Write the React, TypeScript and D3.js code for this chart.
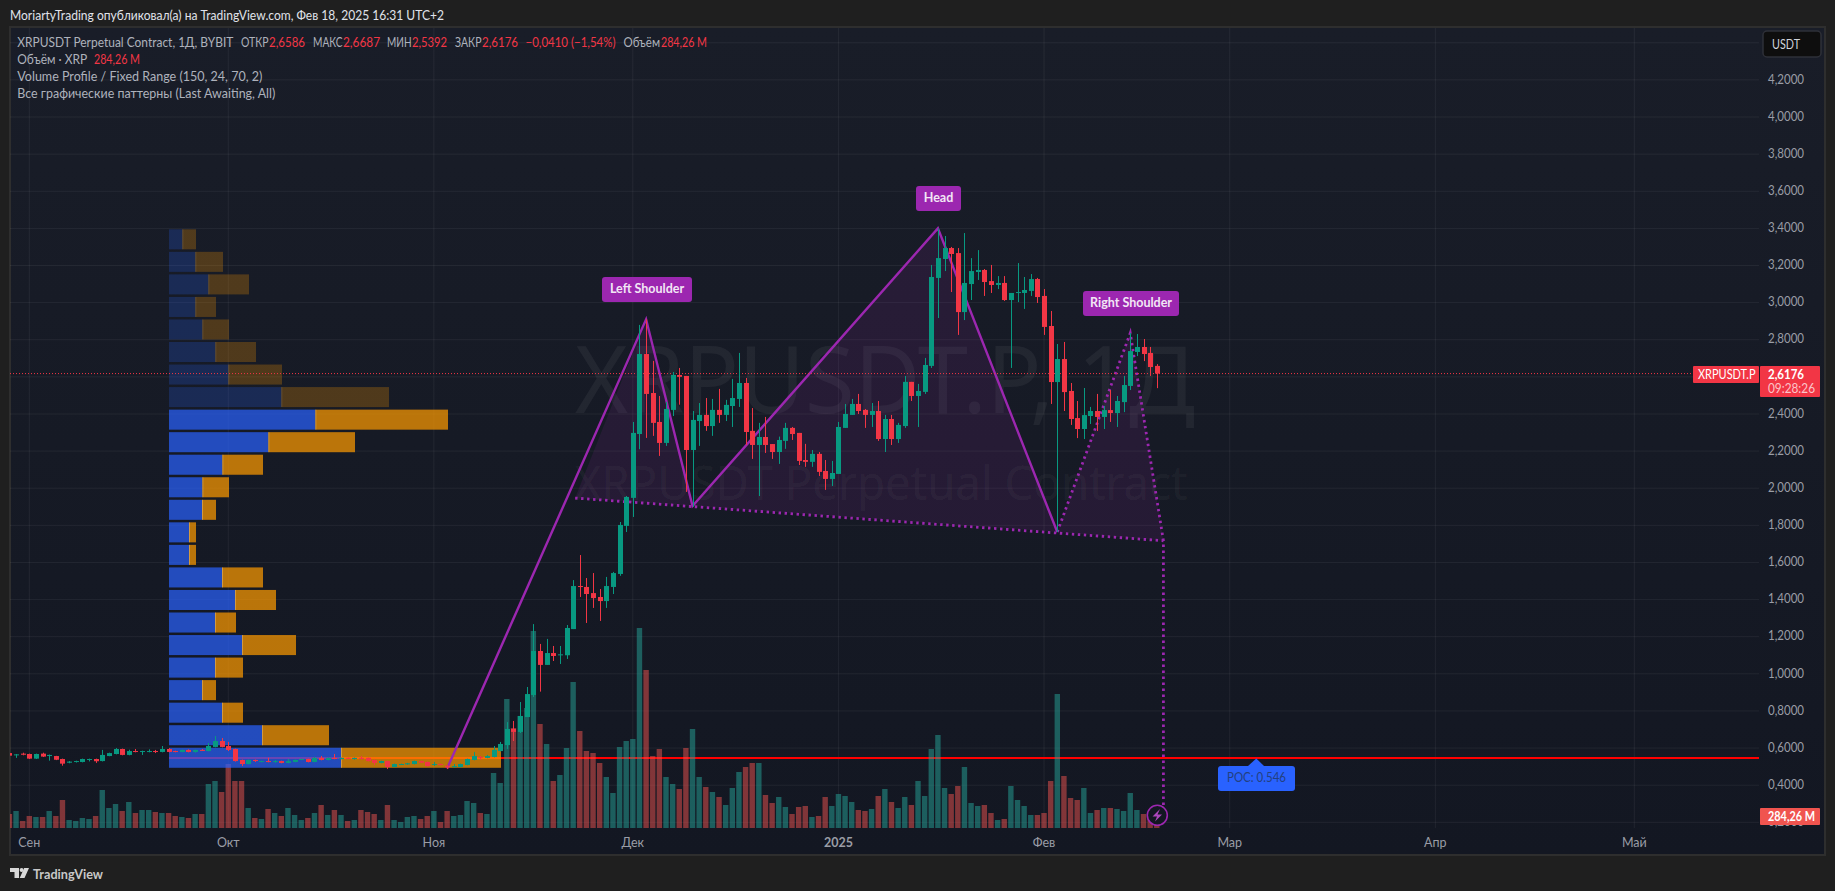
import React from "react";
import * as d3 from "d3";

// ---------- data ----------
const firstBarOffset = -3; // bars start three days before 1 Sep 2024
const opens = [.573,.561,.570,.568,.543,.570,.557,.557,.541,.521,.525,.525,.536,.541,.530,.557,.568,.595,.563,.584,.579,.579,.584,.579,.595,.584,.579,.590,.579,.590,.584,.606,.638,.611,.595,.536,.514,.536,.525,.530,.525,.530,.520,.525,.536,.541,.525,.547,.536,.547,.541,.547,.541,.547,.547,.536,.520,.530,.498,.510,.512,.514,.530,.525,.510,.514,.505,.498,.498,.509,.536,.552,.547,.552,.584,
.616,.703,.687,.767,.886,1.123,1.048,1.112,1.100,1.100,1.241,1.473,1.468,1.435,1.414,1.392,1.468,1.538,1.797,1.948,2.292,2.723,2.513,2.357,2.244,2.422,2.610,2.605,2.206,2.362,2.395,2.335,2.422,2.395,2.443,2.481,2.567,2.309,2.233,2.276,2.238,2.195,2.255,2.325,2.298,2.152,2.142,2.185,2.093,2.050,2.077,2.325,2.395,2.454,2.422,2.395,2.416,2.265,2.373,2.265,2.335,2.573,2.497,2.519,2.659,3.133,3.235,3.294,3.267,2.949,3.100,3.165,3.176,3.116,3.095,3.106,3.014,3.052,3.052,3.063,3.127,3.036,2.874,2.572,2.696,2.524,2.378,2.319,2.389,2.416,2.384,2.421,2.405,2.464,2.551,2.734,2.761,2.729,2.659];
const closes = [.559,.566,.564,.543,.568,.554,.563,.537,.516,.527,.530,.541,.541,.529,.563,.573,.595,.563,.584,.579,.584,.584,.579,.595,.579,.579,.590,.579,.590,.586,.611,.638,.606,.590,.530,.514,.536,.530,.530,.525,.530,.520,.530,.536,.541,.525,.547,.536,.547,.541,.547,.543,.547,.541,.530,.520,.530,.498,.514,.514,.518,.530,.521,.503,.514,.509,.496,.503,.514,.541,.557,.547,.557,.590,.622,
.703,.687,.773,.891,1.123,1.048,1.112,1.096,1.105,1.247,1.473,1.468,1.430,1.408,1.392,1.473,1.543,1.802,1.953,2.298,2.723,2.508,2.352,2.244,2.427,2.610,2.600,2.206,2.368,2.395,2.335,2.422,2.395,2.449,2.486,2.567,2.303,2.233,2.276,2.233,2.195,2.260,2.325,2.292,2.147,2.142,2.185,2.088,2.050,2.082,2.330,2.400,2.454,2.416,2.395,2.416,2.265,2.373,2.265,2.341,2.573,2.497,2.524,2.664,3.138,3.240,3.294,3.262,2.949,3.106,3.170,3.176,3.111,3.095,3.106,3.014,3.052,3.057,3.068,3.127,3.030,2.869,2.572,2.696,2.518,2.373,2.319,2.394,2.416,2.384,2.421,2.405,2.470,2.556,2.739,2.761,2.723,2.653,2.6176];
const highs = [.578,.568,.575,.570,.570,.575,.565,.558,.543,.530,.532,.543,.543,.543,.590,.575,.600,.597,.591,.595,.586,.593,.590,.611,.600,.586,.591,.593,.591,.595,.627,.665,.654,.633,.597,.538,.538,.538,.532,.548,.536,.532,.541,.538,.542,.543,.552,.557,.549,.568,.549,.549,.549,.557,.549,.538,.532,.532,.516,.516,.520,.532,.532,.527,.525,.516,.507,.514,.516,.543,.579,.557,.563,.611,.633,
.740,.746,.848,.929,1.268,1.161,1.188,1.150,1.150,1.263,1.505,1.640,1.516,1.543,1.457,1.522,1.549,1.818,1.958,2.357,2.880,2.910,2.686,2.497,2.465,2.626,2.648,2.605,2.416,2.459,2.486,2.481,2.535,2.476,2.589,2.729,2.594,2.432,2.352,2.384,2.238,2.278,2.352,2.330,2.298,2.239,2.206,2.195,2.152,2.147,2.357,2.454,2.481,2.508,2.427,2.459,2.470,2.395,2.395,2.352,2.605,2.573,2.562,2.702,3.203,3.400,3.359,3.300,3.294,3.375,3.240,3.283,3.181,3.203,3.143,3.143,3.052,3.213,3.138,3.154,3.133,3.073,2.955,2.777,2.788,2.567,2.470,2.540,2.438,2.508,2.443,2.529,2.497,2.605,2.836,2.831,2.804,2.761,2.6687];
const lows = [.556,.547,.561,.541,.541,.552,.532,.535,.505,.518,.522,.523,.528,.520,.528,.556,.566,.561,.561,.577,.563,.577,.573,.577,.577,.577,.577,.577,.575,.584,.582,.604,.604,.584,.527,.503,.512,.525,.523,.523,.520,.518,.518,.523,.535,.523,.523,.534,.534,.540,.539,.541,.537,.539,.528,.509,.518,.487,.496,.509,.510,.512,.519,.501,.503,.507,.487,.493,.496,.507,.534,.537,.545,.550,.582,
.595,.638,.681,.767,.875,.904,1.048,1.069,1.053,1.080,1.241,1.414,1.274,1.355,1.285,1.355,1.430,1.528,1.764,1.845,2.210,2.271,2.282,2.174,2.228,2.389,2.450,1.980,1.899,2.228,2.309,2.282,2.352,2.362,2.330,2.438,2.233,2.158,1.958,2.190,2.158,2.131,2.212,2.260,2.125,2.115,2.115,2.066,1.991,2.012,2.077,2.325,2.395,2.400,2.325,2.330,2.255,2.195,2.233,2.244,2.325,2.470,2.330,2.508,2.648,2.917,3.170,3.057,2.826,2.906,3.014,3.122,3.036,3.052,3.073,3.009,2.648,3.003,2.966,3.036,2.998,2.826,2.454,1.764,2.416,2.341,2.270,2.265,2.346,2.308,2.319,2.357,2.330,2.410,2.529,2.712,2.685,2.605,2.5392];
// volume, millions of XRP
const volumes = [336,408,168,288,264,264,408,288,672,192,168,240,216,288,912,480,576,408,624,360,432,432,384,360,360,288,264,240,336,336,1056,1128,864,1536,1128,1128,480,240,216,456,360,288,480,312,192,240,360,552,312,432,312,168,192,432,384,336,192,552,192,144,264,288,216,288,408,144,408,288,312,648,600,360,336,1320,1080,3096,2400,2688,2880,4728,2496,2016,1128,1272,1920,3504,2328,1848,1800,1560,1224,840,1944,2088,2136,4800,3792,1728,1896,1224,1056,936,1920,2376,1224,984,864,744,552,960,1344,1464,1560,1560,792,600,744,504,336,504,528,264,288,744,528,816,768,624,432,408,456,768,936,624,480,744,552,1128,768,1896,2232,960,816,1008,1464,600,528,552,360,192,216,1008,672,528,312,312,360,1128,3216,1248,720,672,960,360,432,480,480,456,408,840,432,336,216,284];
// Volume profile, top row first
const profileUp = [665,1315,1965,1315,1665,2315,2965,5615,7315,4965,2665,1665,1650,1000,1000,2650,3300,2300,3650,2300,1650,2650,4650,8600];
const profileDown = [685,1385,2035,1035,1335,2035,2685,5385,6635,4335,2035,1335,700,350,350,2050,2050,1050,2700,1400,700,1050,3350,8000];
const profileLow = 0.487;
const profileStep = 0.12145;
const valueAreaFirstRow = 8;
const priceTicks = [0.2,0.4,0.6,0.8,1,1.2,1.4,1.6,1.8,2,2.2,2.4,2.8,3,3.2,3.4,3.6,3.8,4,4.2];
const gridOnlyTicks = [2.6,4.4];
const monthTicks: [number, number, string][] = [
  [2024,8,"Сен"],[2024,9,"Окт"],[2024,10,"Ноя"],[2024,11,"Дек"],[2025,0,"2025"],[2025,1,"Фев"],[2025,2,"Мар"],[2025,3,"Апр"],[2025,4,"Май"],
];
const lastPrice = 2.6176;
const pocPrice = 0.546;
// pattern pivots [bar index from 1 Sep, price]
const patternStart: [number, number] = [63, 0.49];
const leftPeak: [number, number] = [93, 2.91];
const valley1: [number, number] = [100, 1.904];
const headPeak: [number, number] = [137, 3.4];
const valley2: [number, number] = [155, 1.764];
const rightPeak: [number, number] = [166, 2.836];
const neckEnd: [number, number] = [171, 1.717];
const neckStart: [number, number] = [82.3, 1.947];
const targetEnd: [number, number] = [171, 0.29];

// ---------- scales ----------
const x = d3.scaleUtc().domain([new Date(Date.UTC(2024,8,1)), new Date(Date.UTC(2025,4,1))]).range([29.3,1634.3]);
const xBar = (i: number) => x(new Date(Date.UTC(2024,8,1) + i*86400000));
const y = d3.scaleLinear().domain([0.2,4.2]).range([822.3,79.9]);
const yVol = d3.scaleLinear().domain([0,4800]).range([828,628]);
const wProfile = d3.scaleLinear().domain([0,16600]).range([0,332]);
const PROFILE_LEFT = 169;
const pathOf = d3.line<[number,number]>().x(d=>xBar(d[0])).y(d=>y(d[1]));
const polyOf = d3.line<[number,number]>().x(d=>xBar(d[0])).y(d=>y(d[1])).curve(d3.curveLinearClosed);
const comma = (v:number)=>d3.format(".4f")(v).replace(".",",");

const FONT = "Lato, 'Noto Sans', sans-serif";
const GRID = "rgba(255,255,255,0.06)";
const TEAL = "#089981", RED = "#f23645", PURPLE = "#9c27b0";

function T({x:tx,y:ty,w,size=12.5,fill="#aeb2bc",anchor="start",weight=400,children}:any){
  return <text x={tx} y={ty} fontFamily={FONT} fontSize={size} fill={fill} textAnchor={anchor} fontWeight={weight}
    dominantBaseline="central" {...(w?{textLength:w,lengthAdjust:"spacingAndGlyphs"}:{})}>{children}</text>;
}

export default function App(){
  const bars = opens.map((o,k)=>({i:k+firstBarOffset,o,c:closes[k],h:highs[k],l:lows[k],v:volumes[k],up:closes[k]>=o}));
  return (
    <svg width={1835} height={891} viewBox="0 0 1835 891" style={{position:"absolute",left:0,top:0,display:"block"}}>
      <defs>
        <linearGradient id="pane" x1="0" y1="0" x2="0" y2="1">
          <stop offset="0" stopColor="#191d28"/><stop offset="1" stopColor="#131722"/>
        </linearGradient>
        <clipPath id="plot"><rect x={10} y={27} width={1749} height={802}/></clipPath>
      </defs>
      <rect width={1835} height={891} fill="#1f1f1f"/>
      <T x={10} y={15} w={434} size={13} fill="#e0e3eb">MoriartyTrading опубликовал(а) на TradingView.com, Фев 18, 2025 16:31 UTC+2</T>
      <rect x={10} y={27} width={1815} height={828} fill="url(#pane)" stroke="#2e2e2e" strokeWidth={2}/>

      {/* grid */}
      {[...priceTicks,...gridOnlyTicks].map(p=><line key={p} x1={10} x2={1759} y1={y(p)} y2={y(p)} stroke={GRID}/>)}
      {monthTicks.map(([yy,m])=><line key={`${yy}${m}`} x1={x(new Date(Date.UTC(yy,m,1)))} x2={x(new Date(Date.UTC(yy,m,1)))} y1={28} y2={828} stroke={GRID}/>)}

      {/* watermark */}
      <text x={885} y={413} textAnchor="middle" fontFamily="'Noto Sans', sans-serif" fontSize={94} fill="rgba(255,255,255,0.055)" textLength={620} lengthAdjust="spacingAndGlyphs">XRPUSDT.P, 1Д</text>
      <text x={881} y={500} textAnchor="middle" fontFamily="'Noto Sans', sans-serif" fontSize={48} fill="rgba(255,255,255,0.055)" textLength={613} lengthAdjust="spacingAndGlyphs">XRPUSDT Perpetual Contract</text>

      <g clipPath="url(#plot)">
        {/* POC line */}
        <line x1={PROFILE_LEFT} x2={1759} y1={y(pocPrice)} y2={y(pocPrice)} stroke="#ff0000" strokeWidth={2}/>
        {/* volume */}
        {bars.map(b=><rect key={b.i} x={xBar(b.i)-2.7} width={5.4} y={yVol(b.v)} height={yVol(0)-yVol(b.v)} fill={b.up?"rgba(38,166,154,0.5)":"rgba(239,83,80,0.5)"}/>)}
        {/* volume profile */}
        {profileUp.map((u,k)=>{
          const row = profileUp.length-1-k;
          const top = y(profileLow+(row+1)*profileStep)+1.25;
          const bot = y(profileLow+row*profileStep)-1.25;
          const bright = k>=valueAreaFirstRow;
          const wu = wProfile(u), wd = wProfile(profileDown[k]);
          return <g key={k}>
            <rect x={PROFILE_LEFT} y={top} width={wu} height={bot-top} fill="#2962ff" fillOpacity={bright?0.7:0.22}/>
            <rect x={PROFILE_LEFT+wu} y={top} width={wd} height={bot-top} fill="#fb9800" fillOpacity={bright?0.72:0.25}/>
            <line x1={PROFILE_LEFT+wu+0.5} x2={PROFILE_LEFT+wu+0.5} y1={top} y2={bot} stroke="#ffdcaa" strokeOpacity={bright?0.35:0.15}/>
          </g>;
        })}
        {/* pattern fills */}
        <path d={polyOf([neckStart,leftPeak,valley1])!} fill={PURPLE} fillOpacity={0.12}/>
        <path d={polyOf([valley1,headPeak,valley2])!} fill={PURPLE} fillOpacity={0.12}/>
        <path d={polyOf([valley2,rightPeak,neckEnd])!} fill={PURPLE} fillOpacity={0.12}/>
        {/* pattern lines */}
        <path d={pathOf([patternStart,leftPeak,valley1,headPeak,valley2])!} fill="none" stroke={PURPLE} strokeWidth={2.4}/>
        <path d={pathOf([valley2,rightPeak,neckEnd,targetEnd])!} fill="none" stroke={PURPLE} strokeWidth={2.8} strokeDasharray="2.4 3.6"/>
        <path d={pathOf([neckStart,neckEnd])!} fill="none" stroke={PURPLE} strokeWidth={2.8} strokeDasharray="2.4 3.6"/>
        {/* last price line */}
        <line x1={10} x2={1692} y1={y(lastPrice)} y2={y(lastPrice)} stroke={RED} strokeWidth={1} strokeDasharray="1 2"/>
        {/* candles */}
        {bars.map(b=>{
          const c = b.up?TEAL:RED, cx = Math.round(xBar(b.i));
          const t = y(Math.max(b.o,b.c)), bt = y(Math.min(b.o,b.c));
          return <g key={b.i}>
            <line x1={cx+0.5} x2={cx+0.5} y1={y(b.h)} y2={y(b.l)} stroke={c}/>
            <rect x={cx-2} width={5} y={t} height={Math.max(bt-t,1)} fill={c}/>
          </g>;
        })}
      </g>

      {/* pattern labels */}
      {[[602,277,90,"Left Shoulder"],[916,186,45,"Head"],[1083,291,96,"Right Shoulder"]].map(([lx,ly,lw,s]:any)=>(
        <g key={s}>
          <rect x={lx} y={ly} width={lw} height={25} rx={3} fill={PURPLE}/>
          <T x={lx+lw/2} y={ly+11.5} anchor="middle" size={12.5} fill="#f2e6f5" weight={700}>{s}</T>
        </g>
      ))}

      {/* POC callout */}
      <path d="M1248,766 L1256.3,758.5 L1264,766 Z" fill="#2962ff"/>
      <rect x={1218} y={766} width={77} height={25} rx={3} fill="#2962ff"/>
      <T x={1256.5} y={777.5} anchor="middle" size={12.5} w={59} fill="#23407f">POC: 0.546</T>

      {/* lightning badge */}
      <circle cx={1157.3} cy={815.3} r={10} fill="#131722" stroke={PURPLE} strokeWidth={1.6}/>
      <path d="M1160,809 L1152.5,816.5 L1157,816.5 L1155,821.5 L1162,814.5 L1157.5,814.5 Z" fill="#ab47bc"/>

      {/* legend */}
      <T x={17.3} y={42} w={216}>XRPUSDT Perpetual Contract, 1Д, BYBIT</T>
      <T x={241} y={42} w={27.5}>ОТКР</T><T x={269} y={42} w={36} fill={RED}>2,6586</T>
      <T x={313} y={42} w={29.5}>МАКС</T><T x={343} y={42} w={37} fill={RED}>2,6687</T>
      <T x={387} y={42} w={24.5}>МИН</T><T x={412} y={42} w={35} fill={RED}>2,5392</T>
      <T x={455} y={42} w={26.5}>ЗАКР</T><T x={482} y={42} w={36} fill={RED}>2,6176</T>
      <T x={525.5} y={42} w={90} fill={RED}>−0,0410 (−1,54%)</T>
      <T x={623.5} y={42} w={36.5}>Объём</T><T x={661} y={42} w={46} fill={RED}>284,26 M</T>
      <T x={17.3} y={59} w={70}>Объём · XRP</T><T x={94} y={59} w={46} fill={RED}>284,26 M</T>
      <T x={17.3} y={76.5} w={245}>Volume Profile / Fixed Range (150, 24, 70, 2)</T>
      <T x={17.3} y={93.5} w={258}>Все графические паттерны (Last Awaiting, All)</T>

      {/* price axis */}
      {priceTicks.map(p=><T key={p} x={1804} y={y(p)-0.8} anchor="end" w={36} size={12.5} fill="#9a9da6">{comma(p)}</T>)}
      <rect x={1763} y={31} width={58} height={26} rx={4} fill="#0e0e0e" stroke="#2e3038" strokeWidth={1.5}/>
      <T x={1772} y={44.5} w={28} size={12.5} fill="#d1d4dc">USDT</T>
      <rect x={1693} y={366} width={66} height={17} rx={1} fill={RED}/>
      <T x={1698} y={374.5} w={57.5} size={12.5} fill="#ffffff">XRPUSDT.P</T>
      <rect x={1760} y={366} width={60} height={31} rx={1} fill={RED}/>
      <T x={1804} y={374} anchor="end" w={36} size={12.5} fill="#ffffff" weight={700}>{comma(lastPrice)}</T>
      <T x={1768} y={388} w={47} size={12.5} fill="#fbc4c9">09:28:26</T>
      <rect x={1760} y={808} width={60} height={17} rx={1} fill="#f0544f"/>
      <T x={1768} y={816} w={47} size={12.5} fill="#ffffff" weight={700}>284,26 M</T>

      {/* time axis */}
      {monthTicks.map(([yy,m,s])=>(
        <T key={s} x={x(new Date(Date.UTC(yy,m,1)))} y={842} anchor="middle" size={12.5} fill="#9a9da6" weight={s==="2025"?700:400}>{s}</T>
      ))}

      {/* footer logo */}
      <path d="M10,868 H19 V878 H14.5 V872 H10 Z M29,868 L24.5,878 H19.7 L24.2,868 Z" fill="#d8d8d8"/>
      <circle cx={21.6} cy={870} r={2} fill="#d8d8d8"/>
      <T x={33} y={873.5} w={70} size={14} fill="#c8c8c8" weight={700}>TradingView</T>
    </svg>
  );
}
